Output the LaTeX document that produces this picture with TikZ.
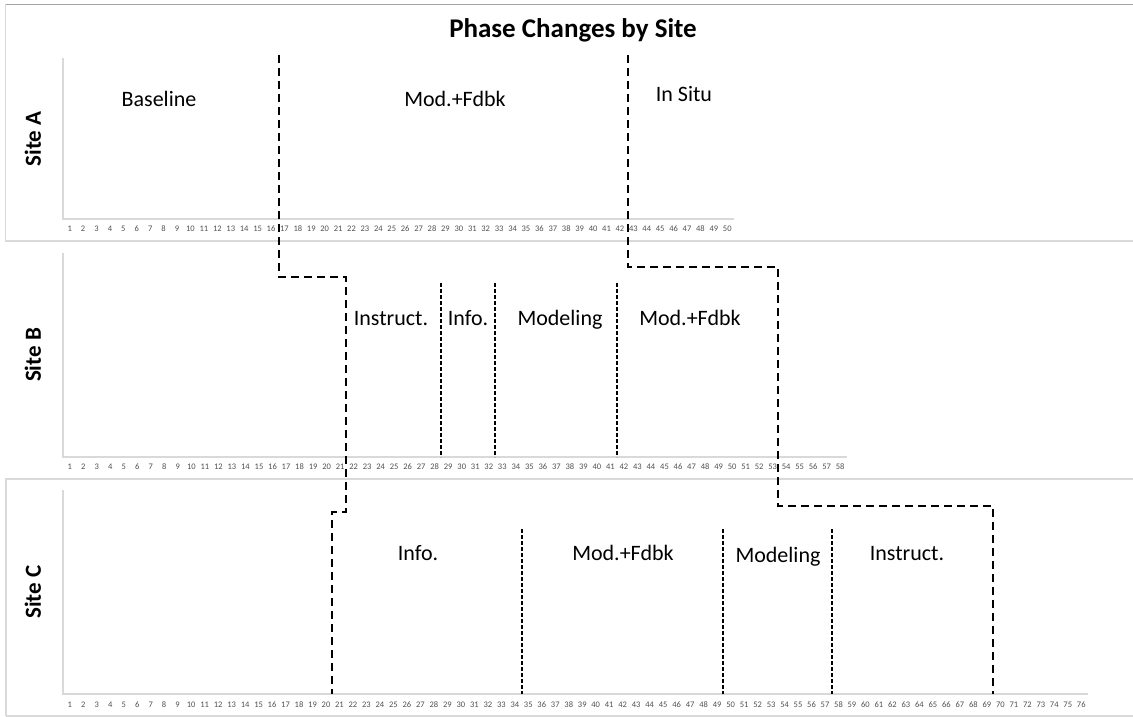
\documentclass[tikz,border=0pt]{standalone}
\usepackage{fontspec}
\setmainfont{Carlito}
\usetikzlibrary{positioning}

\definecolor{axisgray}{RGB}{217,217,217}
\definecolor{tickgray}{RGB}{80,80,80}
\definecolor{framegray}{RGB}{165,165,165}

\begin{document}
\begin{tikzpicture}[x=1pt, y=-1pt,
  axis/.style={draw=axisgray, line width=1.2pt},
  tick/.style={font=\fontsize{8.5}{9}\selectfont, text=tickgray, inner sep=0pt},
  phase/.style={font=\fontsize{22}{25}\selectfont, inner sep=0pt, anchor=base},
  site/.style={font=\bfseries\fontsize{23}{26}\selectfont, rotate=90, inner sep=0pt},
  change/.style={line width=2.5pt, dash pattern=on 8pt off 5pt},
  cond/.style={line width=2pt, dash pattern=on 4pt off 2pt}]

  \useasboundingbox (0,0) rectangle (1133,717);

  % --- panel frames ---
  \draw [framegray, line width=1.5pt] (5,4.5) -- (1133,4.5);
  \draw [axisgray, line width=1.5pt] (5.5,4.5) -- (5.5,241);
  \draw [axisgray, line width=1.5pt] (5,241) -- (1133,241);
  \draw [axisgray, line width=1.5pt] (5,479) -- (1133,479);
  \draw [axisgray, line width=1.5pt] (6,479) -- (6,716);
  \draw [axisgray, line width=1.5pt] (6,716) -- (1133,716);

  % title
  \node [font=\bfseries\fontsize{27}{30}\selectfont, inner sep=0pt, anchor=base] (title) at (573,37.5) {Phase Changes by Site};

  % --- site labels ---
  \node [site] (siteA) at (33,139) {Site A};
  \node [site] (siteB) at (33,355) {Site B};
  \node [site] (siteC) at (33,592) {Site C};

  % --- axes and session numbers ---
  \draw [axis] (63,58) |- (734,219);
  \draw [axis] (63,253) |- (847,457);
  \draw [axis] (63,490) |- (1088,694);
  \foreach \i in {1,...,50} \node [tick] (nA\i) at ({63+(\i-0.5)*13.42},229) {\i};
  \foreach \i in {1,...,58} \node [tick] (nB\i) at ({63+(\i-0.5)*13.517},467) {\i};
  \foreach \i in {1,...,76} \node [tick] (nC\i) at ({63+(\i-0.5)*13.487},705) {\i};

  % --- phase names ---
  \node [phase] (baseA) at (159,106.5) {Baseline};
  \node [phase] (modfbA) at (455,106.5) {Mod.+Fdbk};
  \node [phase] (situA) at (684,101.5) {In Situ};

  \node [phase] (instB) at (391,325) {Instruct.};
  \node [phase] (infoB) at (468,325) {Info.};
  \node [phase] (modB) at (560,325) {Modeling};
  \node [phase] (modfbB) at (690,325) {Mod.+Fdbk};

  \node [phase] (infoC) at (418,560) {Info.};
  \node [phase] (modfbC) at (623,560) {Mod.+Fdbk};
  \node [phase] (modC) at (778,562.5) {Modeling};
  \node [phase] (instC) at (907,560.5) {Instruct.};

  % --- phase change lines across sites ---
  \coordinate (p1) at (279,55);
  \coordinate (p2) at (279,277);
  \coordinate (p3) at (346,277);
  \coordinate (p4) at (346,512);
  \coordinate (p5) at (332,512);
  \coordinate (p6) at (332,694);
  \draw [change] (p1) -- (p2) -- (p3) -- (p4) -- (p5) -- (p6);

  \coordinate (q1) at (628,55);
  \coordinate (q2) at (628,267);
  \coordinate (q3) at (778,267);
  \coordinate (q4) at (778,506);
  \coordinate (q5) at (993,506);
  \coordinate (q6) at (993,694);
  \draw [change] (q1) -- (q2) -- (q3) -- (q4) -- (q5) -- (q6);

  % --- condition changes within a site ---
  \foreach \x in {441,495,617} \draw [cond] (\x,283) -- (\x,457);
  \foreach \x in {522,723,832} \draw [cond] (\x,529) -- (\x,694);

\end{tikzpicture}
\end{document}
